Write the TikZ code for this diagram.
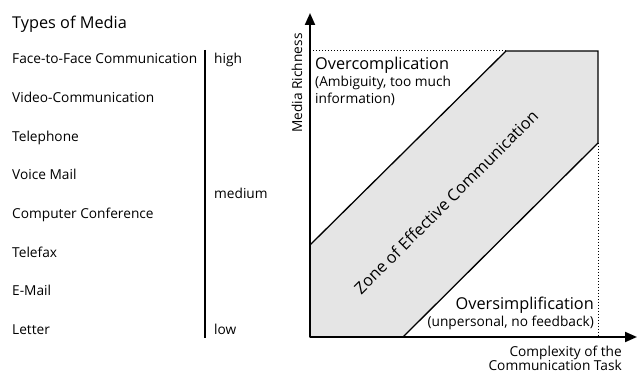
\documentclass[tikz,border=0pt]{standalone}
\usepackage{fontspec}
\setmainfont{Open Sans}
\usetikzlibrary{positioning,arrows.meta}

\begin{document}
\begin{tikzpicture}[
  x=1pt, y=1pt, font=\fontsize{13.7}{17}\selectfont,
  >={Triangle[length=12pt,width=10pt]},
  item/.style={anchor=base west, inner sep=0pt},
  lvl/.style={anchor=base west, inner sep=0pt},
  big/.style={font=\fontsize{16.3}{19}\selectfont, inner sep=0pt},
  note/.style={font=\fontsize{13.7}{17}\selectfont, inner sep=0pt},
  axis/.style={line width=2pt},
  zone/.style={draw=black, line width=1.3pt, fill=gray!20, line join=miter},
  guide/.style={dotted, line width=1pt}
]
\useasboundingbox (0,0) rectangle (638,374);
% media list
\node[big, anchor=base west] (title) at (12,345) {Types of Media};
\node[item] (ftf) at (12,310) {Face-to-Face Communication};
\node[item] (vid) at (12,271) {Video-Communication};
\node[item] (tel) at (12,232) {Telephone};
\node[item] (vm)  at (12,194) {Voice Mail};
\node[item] (cc)  at (12,155) {Computer Conference};
\node[item] (fax) at (12,116) {Telefax};
\node[item] (em)  at (12,78)  {E-Mail};
\node[item] (let) at (12,39)  {Letter};
\coordinate (sc top) at (205,324);
\coordinate (sc bot) at (205,36);
\draw[line width=1.5pt] (sc top) -- (sc bot);
\node[lvl] (high) at (214,310) {high};
\node[lvl] (med)  at (214,175) {medium};
\node[lvl] (low)  at (214,39)  {low};
% diagram
\coordinate (o) at (310,37);
\coordinate (ytip) at (310,361);
\coordinate (xtip) at (637,37);
\coordinate (a) at (310,129);
\coordinate (b) at (506,323);
\coordinate (c) at (598,323);
\coordinate (d) at (598,231);
\coordinate (e) at (403,37);
\coordinate (ytop) at (310,323);
\coordinate (xend) at (598,37);
\draw[zone] (o) -- (a) -- (b) -- (c) -- (d) -- (e) -- cycle;
\draw[guide] (ytop) -- (b);
\draw[guide] (d) -- (xend);
\draw[axis, ->] (o) -- (ytip);
\draw[axis, ->] (o) -- (xtip);
\node[note, rotate=90] (rich) at (297,291) {Media Richness};
\node[note, align=right, anchor=base east, font=\fontsize{13.7}{14.5}\selectfont] (cplx) at (622,3) {Complexity of the\\Communication Task};
\node[big, anchor=base west] (over) at (315,304) {Overcomplication};
\node[note, anchor=base west, align=left] (overtxt) at (315,270) {(Ambiguity, too much\\information)};
\node[big, rotate=45] (zonetxt) at (446,172) {Zone of Effective Communication};
\node[big, anchor=base east] (under) at (594,64) {Oversimplification};
\node[note, anchor=base east] (undertxt) at (594,47) {(unpersonal, no feedback)};
\end{tikzpicture}
\end{document}
